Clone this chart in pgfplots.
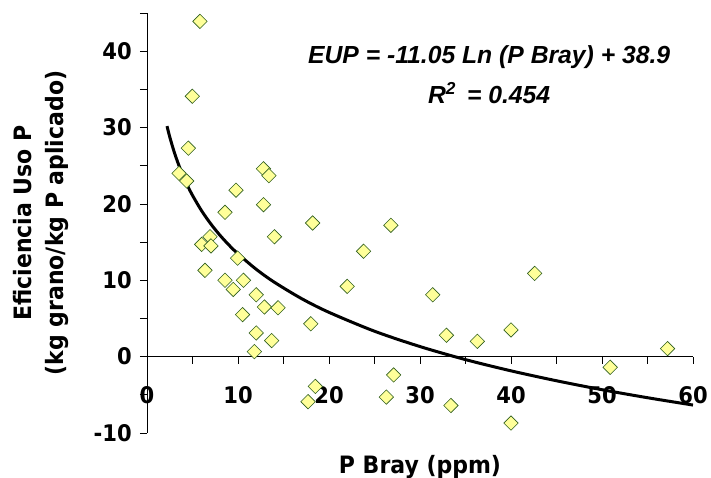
\documentclass[border=0pt]{standalone}
\usepackage{fontspec}
\setmainfont{DejaVu Sans}[FakeStretch=0.92]
\newfontfamily\eqfont{Liberation Sans}
\usepackage{pgfplots}
\pgfplotsset{compat=1.18}
\definecolor{mkfill}{HTML}{FFFF99}
\definecolor{mkedge}{HTML}{2E5E1E}

\begin{document}
\begin{tikzpicture}
\useasboundingbox (0,0) rectangle (711bp,478bp);
\begin{axis}[
    at={(147bp,45bp)}, anchor=south west,
    scale only axis, width=546bp, height=420bp,
    xmin=0, xmax=60, ymin=-10, ymax=45,
    axis x line=middle, axis y line=left,
    axis line style={-, black, line width=0.8bp},
    hide obscured x ticks=false, hide obscured y ticks=false,
    tick align=outside,
    major tick length=7bp, minor tick length=7bp,
    tick style={black, line width=0.8bp},
    xtick={0,10,...,60}, minor xtick={5,15,...,55},
    ytick={-10,0,...,40}, minor ytick={-5,5,...,45},
    xticklabels={0,10,20,30,40,50,60},
    yticklabels={-10,0,10,20,30,40},
    ticklabel style={font=\fontsize{23}{27}\selectfont\bfseries},
    xticklabel style={inner sep=0pt, anchor=north, yshift=-23bp},
    yticklabel style={inner sep=0pt, anchor=east, xshift=-8bp},
    xlabel={P Bray (ppm)},
    xlabel style={font=\fontsize{24}{29}\selectfont\bfseries,
        at={([yshift=-40bp]axis description cs:0.5,0)}, anchor=base},
    ylabel={Eficiencia Uso P\\(kg grano/kg P aplicado)},
    ylabel style={font=\fontsize{24}{32}\selectfont\bfseries, align=center,
        at={([xshift=-106bp]axis description cs:0,0.5)}, anchor=center},
]
\addplot[only marks, mark=square*, mark size=5.1bp,
    mark options={rotate=45, fill=mkfill, draw=mkedge, line width=0.6bp}]
coordinates {
    (5.82,43.9) (4.98,34.1) (4.54,27.3) (3.52,24.0) (4.36,23.0)
    (9.78,21.8) (12.8,24.6) (13.4,23.7) (12.8,19.9) (8.57,18.9)
    (18.2,17.5) (14.0,15.7) (6.92,15.7) (6.01,14.7) (7.03,14.5)
    (9.96,12.9) (6.37,11.3) (8.57,10.0) (10.6,10.0) (9.48,8.8)
    (12.0,8.1) (12.9,6.5) (14.4,6.4) (10.5,5.5) (18.0,4.3)
    (12.0,3.1) (13.7,2.1) (11.8,0.66) (18.5,-3.9) (17.7,-5.9)
    (26.8,17.2) (23.8,13.8) (22.0,9.2) (31.4,8.1) (32.9,2.8)
    (36.3,2.0) (40.0,3.5) (27.1,-2.4) (26.3,-5.3) (33.4,-6.4)
    (40.0,-8.7) (42.6,10.9) (57.2,1.05) (50.9,-1.4)
};
% tendencia logaritmica
\addplot[black, line width=3bp, smooth] coordinates {
    (2.2,30.19) (2.5,28.77) (3,26.76) (3.5,25.06) (4,23.58) (4.5,22.28)
    (5,21.12) (6,19.10) (7,17.40) (8,15.92) (9,14.62) (10,13.46)
    (12,11.44) (14,9.74) (17,7.59) (20,5.80) (25,3.33) (30,1.32)
    (35,-0.39) (40,-1.86) (45,-3.16) (50,-4.33) (55,-5.38) (60,-6.34)
};
\node[font={\fontsize{24.8}{40}\eqfont\bfseries\itshape}, align=center]
    at (axis cs:37.6,36.9) {EUP = -11.05 Ln (P Bray) + 38.9\\R\textsuperscript{2}\, = 0.454};
\end{axis}
\end{tikzpicture}
\end{document}
